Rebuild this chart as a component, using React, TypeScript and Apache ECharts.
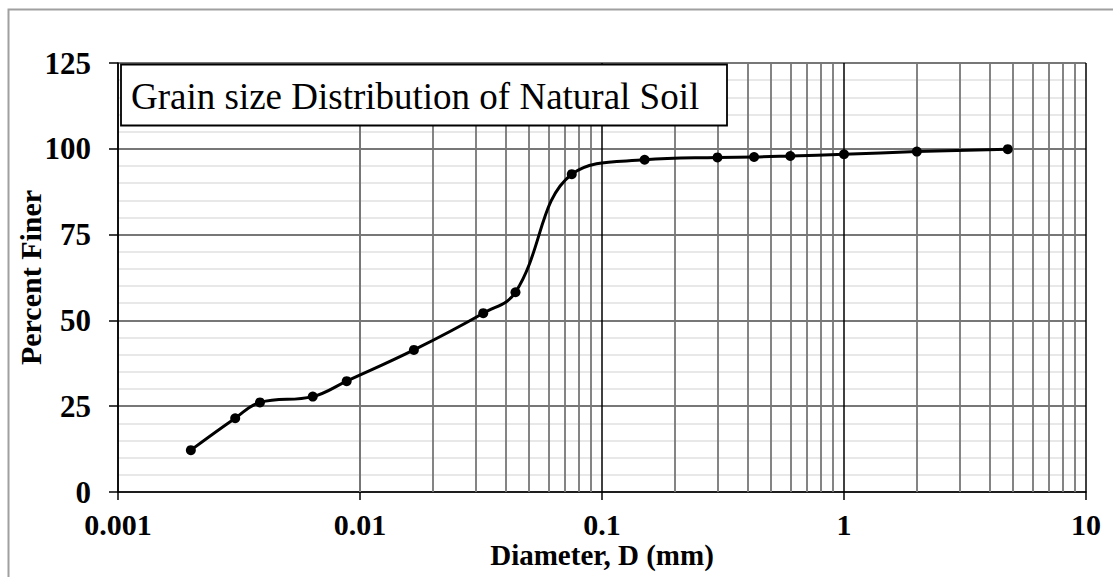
import React, { useEffect, useRef } from "react";
import * as echarts from "echarts";

const diameters = [0.002, 0.00305, 0.00386, 0.00638, 0.00881, 0.0167, 0.0323, 0.0439, 0.075, 0.15, 0.3, 0.425, 0.6, 1.0, 2.0, 4.75];
const percentFiner = [12.2, 21.5, 26.1, 27.8, 32.3, 41.4, 52.1, 58.2, 92.6, 96.8, 97.5, 97.6, 97.9, 98.4, 99.2, 99.9];
const decades = [0.001, 0.01, 0.1, 1, 10];
const minorMultipliers = [2, 3, 4, 5, 6, 7, 8, 9];
const titleText = "Grain size Distribution of Natural Soil";
const xAxisTitle = "Diameter, D (mm)";
const yAxisTitle = "Percent Finer";

const minorX: number[] = [];
decades.slice(0, -1).forEach((d) => minorMultipliers.forEach((m) => minorX.push(+(d * m).toPrecision(3))));

const FONT = "'Liberation Serif', 'Times New Roman', serif";

export default function App() {
  const ref = useRef<HTMLDivElement>(null);
  useEffect(() => {
    const chart = echarts.init(ref.current!, null, { renderer: "svg" });
    chart.setOption({
      animation: false,
      backgroundColor: "#fff",
      grid: { left: 118, right: 27, top: 63, bottom: 85, containLabel: false, outerBoundsMode: "none" },
      xAxis: {
        type: "log",
        logBase: 10,
        min: 0.001,
        max: 10,
        name: xAxisTitle,
        nameLocation: "middle",
        nameGap: 48,
        nameMoveOverlap: false,
        nameTextStyle: { fontFamily: FONT, fontWeight: "bold", fontSize: 29, color: "#000" },
        axisLine: { lineStyle: { color: "#000", width: 1.5 } },
        axisTick: { show: true, length: 8, lineStyle: { color: "#000", width: 1.5 } },
        axisLabel: {
          fontFamily: FONT,
          fontWeight: "bold",
          fontSize: 30,
          color: "#000",
          margin: 17,
          formatter: (v: number) => String(+v.toPrecision(3)),
        },
        splitLine: { show: true, lineStyle: { color: "#000", width: 1.5 } },
        minorTick: { show: false },
        minorSplitLine: { show: false },
      },
      yAxis: {
        type: "value",
        min: 0,
        max: 125,
        interval: 25,
        name: yAxisTitle,
        nameLocation: "middle",
        nameGap: 73,
        nameMoveOverlap: false,
        nameTextStyle: { fontFamily: FONT, fontWeight: "bold", fontSize: 30, color: "#000" },
        axisLine: { show: true, lineStyle: { color: "#000", width: 1.5 } },
        axisTick: { show: true, length: 9, lineStyle: { color: "#000", width: 1.5 } },
        axisLabel: { fontFamily: FONT, fontWeight: "bold", fontSize: 31, color: "#000", margin: 27 },
        splitLine: { show: true, lineStyle: { color: "#777", width: 1.8 } },
        minorTick: { show: false, splitNumber: 5 },
        minorSplitLine: { show: true, lineStyle: { color: "#e8e8e8", width: 1.8 } },
      },
      series: [
        {
          type: "line",
          data: [],
          silent: true,
          z: 1,
          markLine: {
            silent: true,
            symbol: "none",
            label: { show: false },
            animation: false,
            lineStyle: { color: "#777", width: 1.8, type: "solid" },
            data: minorX.map((x) => ({ xAxis: x })),
          },
        },
        {
          type: "line",
          z: 5,
          data: diameters.map((d, i) => [d, percentFiner[i]]),
          smooth: 0.4,
          symbol: "circle",
          symbolSize: 10,
          itemStyle: { color: "#000" },
          lineStyle: { color: "#000", width: 3 },
        },
      ],
      graphic: [
        {
          type: "rect",
          shape: { x: 8.5, y: 9.5, width: 1200, height: 700 },
          style: { fill: "none", stroke: "#a0a0a0", lineWidth: 2 },
          silent: true,
          z: 0,
        },
        {
          type: "rect",
          shape: { x: 121, y: 64.5, width: 606, height: 61 },
          style: { fill: "#fff", stroke: "#000", lineWidth: 1.8 },
          z: 10,
        },
        {
          type: "text",
          x: 131,
          y: 96,
          style: {
            text: titleText,
            fontFamily: FONT,
            fontSize: 37,
            fill: "#000",
            verticalAlign: "middle",
            align: "left",
          },
          z: 11,
        },
      ],
    });
    return () => chart.dispose();
  }, []);
  return <div ref={ref} style={{ position: "absolute", left: 0, top: 0, width: 1113, height: 577 }} />;
}
